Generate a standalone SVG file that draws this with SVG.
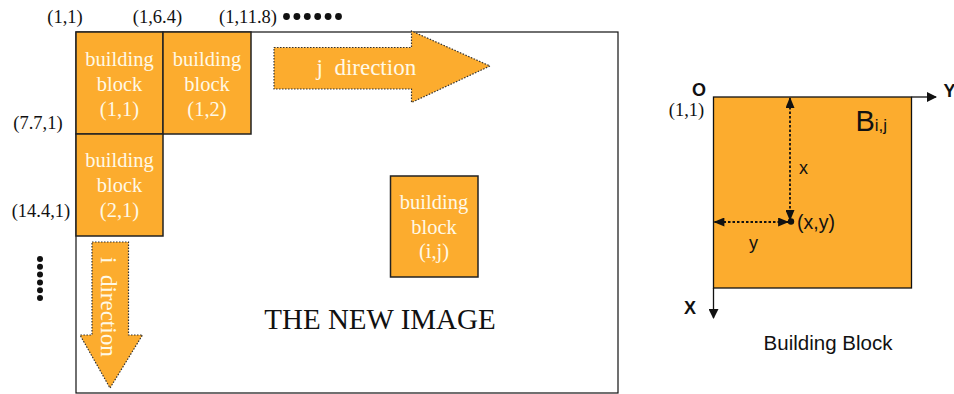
<svg xmlns="http://www.w3.org/2000/svg" width="954" height="394" viewBox="0 0 954 394">
<style>
.blk{fill:#FCAC2E;stroke:#222;stroke-width:1.5}
.bt{font-family:"Liberation Serif",serif;font-size:20.5px;fill:#FFF9E6;text-anchor:middle}
.lbl{font-family:"Liberation Serif",serif;font-size:18.5px;fill:#111}
.arr{fill:#FCAC2E;stroke:#333;stroke-width:1.2;stroke-dasharray:1.5 1.5}
.at{font-family:"Liberation Serif",serif;font-size:23px;fill:#FFF9E6}
.sans{font-family:"Liberation Sans",Arial,sans-serif;fill:#111}
.dot{stroke:#111;stroke-width:1.8;stroke-dasharray:2.5 2;fill:none}
</style>
<defs>
<marker id="ah" viewBox="0 0 10 10" refX="9" refY="5" markerWidth="10" markerHeight="10" markerUnits="userSpaceOnUse" orient="auto-start-reverse">
<path d="M0,0 L10,5 L0,10 z" fill="#111"/>
</marker>
<marker id="ah2" viewBox="0 0 12 10" refX="11" refY="5" markerWidth="13" markerHeight="9" markerUnits="userSpaceOnUse" orient="auto-start-reverse">
<path d="M0,0 L12,5 L0,10 z" fill="#111"/>
</marker>
</defs>
<rect width="954" height="394" fill="#fff"/>
<g id="frame">
<rect x="76" y="32" width="542" height="361" fill="none" stroke="#111" stroke-width="1.2"/>
<text x="380" y="329" font-family="Liberation Serif,serif" font-size="29" text-anchor="middle" fill="#111">THE NEW IMAGE</text>
</g>
<g id="block11">
<rect class="blk" x="76" y="32" width="87" height="102" stroke-width="2"/>
<text class="bt" x="119.5" y="66">building</text>
<text class="bt" x="119.5" y="91">block</text>
<text class="bt" x="119.5" y="116">(1,1)</text>
</g>
<g id="block12">
<rect class="blk" x="163" y="32" width="88" height="102" stroke="#333"/>
<text class="bt" x="207" y="66">building</text>
<text class="bt" x="207" y="91">block</text>
<text class="bt" x="207" y="116">(1,2)</text>
</g>
<g id="block21">
<rect class="blk" x="76" y="134" width="87" height="102"/>
<text class="bt" x="119.5" y="167">building</text>
<text class="bt" x="119.5" y="192">block</text>
<text class="bt" x="119.5" y="217">(2,1)</text>
</g>
<g id="blockij">
<rect class="blk" x="390.5" y="176" width="87.5" height="101"/>
<text class="bt" x="434" y="209">building</text>
<text class="bt" x="434" y="234">block</text>
<text class="bt" x="434" y="258">(i,j)</text>
</g>
<g id="jdir">
<path class="arr" d="M274,47.5 L411.5,47.5 L411.5,31 L490,66 L411.5,102.5 L411.5,89 L274,89 Z"/>
<text class="at" x="316.5" y="75" xml:space="preserve">j  direction</text>
</g>
<g id="idir">
<path class="arr" d="M92,242 L128.5,242 L128.5,335 L142.5,335 L110,388 L80,335 L92,335 Z"/>
<text class="at" transform="translate(101,257) rotate(90)" xml:space="preserve">i  direction</text>
</g>
<g id="labels">
<text class="lbl" x="65" y="23" text-anchor="middle">(1,1)</text>
<text class="lbl" x="157.5" y="23" text-anchor="middle">(1,6.4)</text>
<text class="lbl" x="248" y="23" text-anchor="middle">(1,11.8)</text>
<g fill="#111">
<circle cx="286.5" cy="16.5" r="3.4"/><circle cx="296.9" cy="16.5" r="3.4"/><circle cx="307.3" cy="16.5" r="3.4"/><circle cx="317.7" cy="16.5" r="3.4"/><circle cx="328.1" cy="16.5" r="3.4"/><circle cx="338.5" cy="16.5" r="3.4"/>
<circle cx="40" cy="259" r="3"/><circle cx="40" cy="266.8" r="3"/><circle cx="40" cy="274.6" r="3"/><circle cx="40" cy="282.4" r="3"/><circle cx="40" cy="290.2" r="3"/><circle cx="40" cy="298" r="3"/>
</g>
<text class="lbl" x="38" y="129" text-anchor="middle">(7.7,1)</text>
<text class="lbl" x="41" y="217" text-anchor="middle">(14.4,1)</text>
</g>
<g id="bij">
<rect x="713.5" y="97" width="198" height="191" fill="#FCAC2E" stroke="#111" stroke-width="1.3"/>
<text class="sans" x="855.5" y="131" font-size="29">B<tspan font-size="17">i,j</tspan></text>
<text class="sans" x="799" y="174" font-size="18">x</text>
<text class="sans" x="797" y="229" font-size="19.5">(x,y)</text>
<text class="sans" x="749" y="249" font-size="18">y</text>
<text class="sans" x="828" y="350" font-size="20.5" text-anchor="middle">Building Block</text>
<text class="sans" x="699" y="95.5" font-size="18" font-weight="bold" text-anchor="middle">O</text>
<text class="sans" x="943.5" y="97" font-size="18" font-weight="bold">Y</text>
<text class="sans" x="690" y="314" font-size="18" font-weight="bold" text-anchor="middle">X</text>
<text class="lbl" x="686.5" y="116" text-anchor="middle">(1,1)</text>
</g>
<g id="connectors">
<line x1="911.5" y1="97" x2="936" y2="97" stroke="#111" stroke-width="1.3" marker-end="url(#ah)"/>
<line x1="713.5" y1="288" x2="713.5" y2="318" stroke="#111" stroke-width="1.3" marker-end="url(#ah)"/>
<line class="dot" x1="790" y1="98" x2="790" y2="220" marker-start="url(#ah2)" marker-end="url(#ah2)"/>
<line class="dot" x1="714.5" y1="222" x2="788" y2="222" marker-start="url(#ah2)" marker-end="url(#ah2)"/>
<circle cx="791" cy="221.5" r="3.2" fill="#111"/>
</g>
</svg>
